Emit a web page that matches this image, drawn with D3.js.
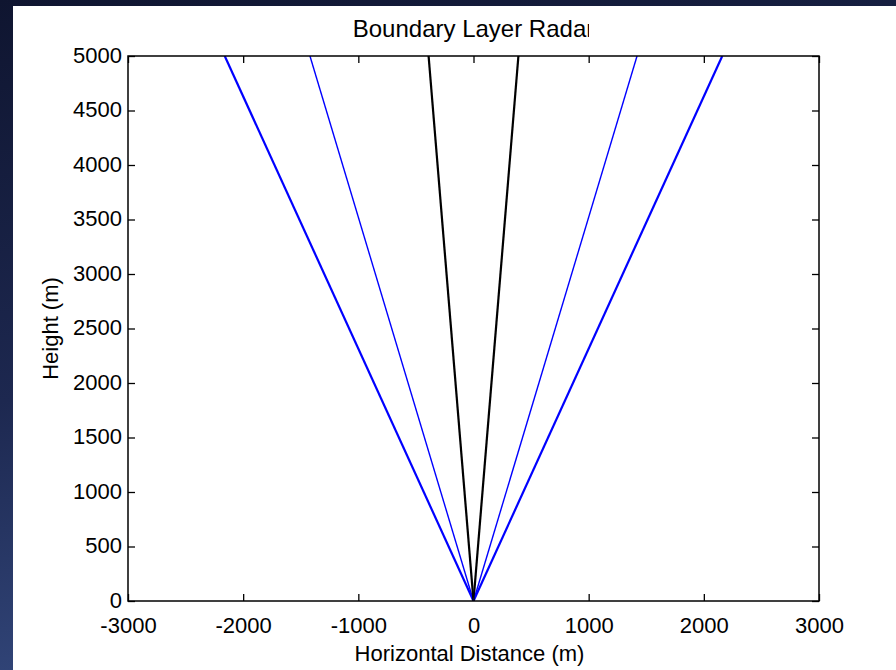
<!DOCTYPE html>
<html><head><meta charset="utf-8">
<script src="https://cdn.jsdelivr.net/npm/d3@7"></script>
<style>
html,body{margin:0;padding:0;background:#141a38;}
svg{display:block;}
text{font-family:"Liberation Sans",Arial,Helvetica,sans-serif;fill:#000;}
</style></head>
<body>
<svg id="c" width="896" height="670"></svg>
<script>
// ---- data ----
const beamNames = ["Outer west", "Inner west", "Near-vertical west", "Near-vertical east", "Inner east", "Outer east"];
const beamTopX = [-2160, -1420, -390, 390, 1420, 2160];   // horizontal distance at top (m)
const beamTopHeight = [5000, 5000, 5000, 5000, 5000, 5000];
const beamOrigin = [0, 0];
const xTicks = [-3000, -2000, -1000, 0, 1000, 2000, 3000];
const yTicks = [0, 500, 1000, 1500, 2000, 2500, 3000, 3500, 4000, 4500, 5000];
const titleText = "Boundary Layer Radar";
const xLabel = "Horizontal Distance (m)";
const yLabel = "Height (m)";

// ---- styles (kept separate) ----
const beamStyle = [
  {color:"#0000ff", w:2.2},
  {color:"#0000ff", w:1.4},
  {color:"#000000", w:2.2},
  {color:"#000000", w:2.2},
  {color:"#0000ff", w:1.4},
  {color:"#0000ff", w:2.2}
];

const svg = d3.select("#c");
const W = 896, H = 670;

// background
const defs = svg.append("defs");
const g1 = defs.append("linearGradient").attr("id","bg").attr("x1",0).attr("y1",0).attr("x2",0.3).attr("y2",1);
g1.append("stop").attr("offset","0%").attr("stop-color","#0f1530");
g1.append("stop").attr("offset","55%").attr("stop-color","#1d2850");
g1.append("stop").attr("offset","100%").attr("stop-color","#34497e");
svg.append("rect").attr("width",W).attr("height",H).attr("fill","url(#bg)");

// white figure area
svg.append("rect").attr("x",13).attr("y",6).attr("width",W-13).attr("height",H-6).attr("fill","#fff");

const m = {l:128, r:819, t:56, b:601};
const x = d3.scaleLinear().domain([-3000,3000]).range([m.l, m.r]);
const y = d3.scaleLinear().domain([0,5000]).range([m.b, m.t]);

// beams
const beams = beamTopX.map((bx,i)=>({name:beamNames[i], pts:[[beamOrigin[0],beamOrigin[1]],[bx,beamTopHeight[i]]], st:beamStyle[i]}));
const line = d3.line().x(d=>x(d[0])).y(d=>y(d[1]));
defs.append("clipPath").attr("id","plotclip").append("rect")
  .attr("x",m.l).attr("y",m.t).attr("width",m.r-m.l).attr("height",m.b-m.t);
svg.append("g").attr("clip-path","url(#plotclip)").selectAll("path").data(beams).join("path")
  .attr("d",d=>line(d.pts)).attr("fill","none")
  .attr("stroke",d=>d.st.color).attr("stroke-width",d=>d.st.w);

// axes (ticks inward, box)
const tickLen = 7;
const fs = 22;
const fmt = d => String(d);  // plain hyphen-minus like the reference
const axB = d3.axisBottom(x).tickValues(xTicks).tickSize(-tickLen).tickFormat(fmt);
const axT = d3.axisTop(x).tickValues(xTicks).tickSize(-tickLen).tickFormat("");
const axL = d3.axisLeft(y).tickValues(yTicks).tickSize(-tickLen).tickFormat(fmt);
const axR = d3.axisRight(y).tickValues(yTicks).tickSize(-tickLen).tickFormat("");

function style(g){
  g.selectAll(".tick line").attr("stroke","#000").attr("stroke-width",1.3);
  g.selectAll(".tick text").attr("font-size",fs).attr("font-family",'"Liberation Sans",Arial,sans-serif').attr("fill","#000");
}
svg.append("g").attr("transform",`translate(0,${m.b})`).call(axB).call(style)
  .selectAll(".tick text").attr("dy","0.71em").attr("y",16);
svg.append("g").attr("transform",`translate(0,${m.t})`).call(axT).call(style);
svg.append("g").attr("transform",`translate(${m.l},0)`).call(axL).call(style)
  .selectAll(".tick text").attr("x",-6).attr("dy","0.28em");
svg.append("g").attr("transform",`translate(${m.r},0)`).call(axR).call(style);
svg.selectAll(".domain").remove();
svg.append("rect").attr("x",m.l).attr("y",m.t).attr("width",m.r-m.l).attr("height",m.b-m.t)
  .attr("fill","none").attr("stroke","#000").attr("stroke-width",1.5);

// title (clipped at right, as in reference)
defs.append("clipPath").attr("id","titleclip").append("rect").attr("x",300).attr("y",8).attr("width",289).attr("height",44);
svg.append("text").attr("clip-path","url(#titleclip)")
  .attr("x",(m.l+m.r)/2).attr("y",37).attr("text-anchor","middle").attr("font-size",24)
  .text(titleText);

svg.append("text").attr("x",(m.l+m.r)/2 - 4).attr("y",661).attr("text-anchor","middle").attr("font-size",fs)
  .text(xLabel);

svg.append("text").attr("transform",`translate(58,${(m.t+m.b)/2}) rotate(-90)`).attr("text-anchor","middle").attr("font-size",fs)
  .text(yLabel);
</script>
</body></html>
